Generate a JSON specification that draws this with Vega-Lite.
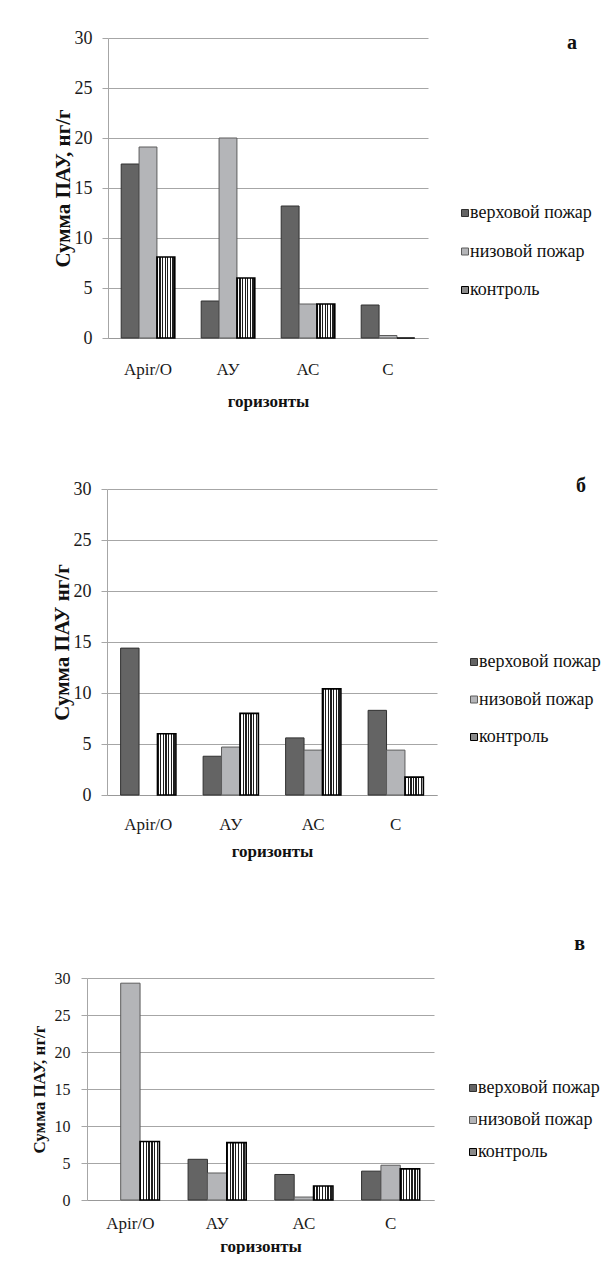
{
  "$schema": "https://vega.github.io/schema/vega-lite/v6.json",
  "padding": {"left": 29, "top": 29, "right": 0, "bottom": 0},
  "background": "white",
  "columns": 2,
  "align": "none",
  "bounds": "full",
  "spacing": {"row": 67, "column": 0},
  "config": {
    "font": "Liberation Serif",
    "view": {"stroke": null},
    "axis": {
      "labelFont": "Liberation Serif",
      "titleFont": "Liberation Serif",
      "labelColor": "#1a1a1a",
      "titleColor": "#111111",
      "titleFontWeight": "bold",
      "gridColor": "#a6a6a6",
      "domainColor": "#a6a6a6",
      "tickColor": "#a6a6a6",
      "gridWidth": 1,
      "domainWidth": 1
    },
    "axisX": {"ticks": false, "tickSize": 0, "labelAngle": 0, "domainColor": "#999999", "grid": false},
    "axisY": {"tickSize": 6, "grid": true},
    "legend": {
      "labelFont": "Liberation Serif",
      "titleFont": "Liberation Serif",
      "labelColor": "#111111",
      "titleColor": "#111111",
      "titleFontWeight": "bold",
      "titleFontSize": 20,
      "titleAnchor": "end",
      "padding": 0,
      "symbolType": "square",
      "symbolSize": 49,
      "symbolStrokeColor": "#333333",
      "symbolStrokeWidth": 1,
      "labelOffset": -4,
      "labelLimit": 300,
      "titleLimit": 300
    }
  },
  "datasets": {
    "a": [
      {"horizon": "Apir/O", "series": "верховой пожар", "value": 17.4},
      {"horizon": "Apir/O", "series": "низовой пожар", "value": 19.1},
      {"horizon": "Apir/O", "series": "контроль", "value": 8.1},
      {"horizon": "АУ", "series": "верховой пожар", "value": 3.7},
      {"horizon": "АУ", "series": "низовой пожар", "value": 20.0},
      {"horizon": "АУ", "series": "контроль", "value": 6.0},
      {"horizon": "АС", "series": "верховой пожар", "value": 13.2},
      {"horizon": "АС", "series": "низовой пожар", "value": 3.4},
      {"horizon": "АС", "series": "контроль", "value": 3.4},
      {"horizon": "С", "series": "верховой пожар", "value": 3.3},
      {"horizon": "С", "series": "низовой пожар", "value": 0.25},
      {"horizon": "С", "series": "контроль", "value": 0}
    ],
    "b": [
      {"horizon": "Apir/O", "series": "верховой пожар", "value": 14.4},
      {"horizon": "Apir/O", "series": "контроль", "value": 6.0},
      {"horizon": "АУ", "series": "верховой пожар", "value": 3.8},
      {"horizon": "АУ", "series": "низовой пожар", "value": 4.7},
      {"horizon": "АУ", "series": "контроль", "value": 8.0},
      {"horizon": "АС", "series": "верховой пожар", "value": 5.6},
      {"horizon": "АС", "series": "низовой пожар", "value": 4.4},
      {"horizon": "АС", "series": "контроль", "value": 10.4},
      {"horizon": "С", "series": "верховой пожар", "value": 8.3},
      {"horizon": "С", "series": "низовой пожар", "value": 4.4},
      {"horizon": "С", "series": "контроль", "value": 1.75}
    ],
    "c": [
      {"horizon": "Apir/O", "series": "низовой пожар", "value": 29.3},
      {"horizon": "Apir/O", "series": "контроль", "value": 7.9},
      {"horizon": "АУ", "series": "верховой пожар", "value": 5.5},
      {"horizon": "АУ", "series": "низовой пожар", "value": 3.65},
      {"horizon": "АУ", "series": "контроль", "value": 7.75},
      {"horizon": "АС", "series": "верховой пожар", "value": 3.45},
      {"horizon": "АС", "series": "низовой пожар", "value": 0.4},
      {"horizon": "АС", "series": "контроль", "value": 1.9},
      {"horizon": "С", "series": "верховой пожар", "value": 3.9},
      {"horizon": "С", "series": "низовой пожар", "value": 4.7},
      {"horizon": "С", "series": "контроль", "value": 4.2}
    ],
    "empty": []
  },
  "concat": [
    {"width": 1, "height": 1, "data": {"name": "empty"}, "mark": "point"},
    {
      "width": 320,
      "height": 300,
      "data": {"name": "a"},
      "mark": {"type": "bar"},
      "encoding": {
        "x": {"field": "horizon", "type": "nominal", "sort": ["Apir/O", "АУ", "АС", "С"], "scale": {"paddingInner": 0.33, "paddingOuter": 0.165},
          "axis": {"title": "горизонты", "labelPadding": 23, "titlePadding": 16, "labelFontSize": 17, "titleFontSize": 17}},
        "xOffset": {"field": "series", "type": "nominal", "scale": {"domain": ["верховой пожар", "низовой пожар", "контроль"], "paddingInner": 0, "paddingOuter": 0}},
        "y": {"field": "value", "type": "quantitative", "scale": {"domain": [0, 30]},
          "axis": {"values": [0, 5, 10, 15, 20, 25, 30], "title": ["", "Сумма ПАУ, нг/г"], "titleFontSize": 21, "titlePadding": 1, "titleLineHeight": 22, "labelFontSize": 18, "labelPadding": 10}},
        "fill": {
          "condition": {"test": "datum.series === 'контроль'", "value": {"gradient": "linear", "x1": 0, "y1": 0, "x2": 1, "y2": 0, "stops": [
            {"offset": 0, "color": "#1e1e1e"}, {"offset": 0.0714, "color": "#1e1e1e"},
            {"offset": 0.0714, "color": "#ffffff"}, {"offset": 0.1429, "color": "#ffffff"},
            {"offset": 0.1429, "color": "#1e1e1e"}, {"offset": 0.2143, "color": "#1e1e1e"},
            {"offset": 0.2143, "color": "#ffffff"}, {"offset": 0.2857, "color": "#ffffff"},
            {"offset": 0.2857, "color": "#1e1e1e"}, {"offset": 0.3571, "color": "#1e1e1e"},
            {"offset": 0.3571, "color": "#ffffff"}, {"offset": 0.4286, "color": "#ffffff"},
            {"offset": 0.4286, "color": "#1e1e1e"}, {"offset": 0.5, "color": "#1e1e1e"},
            {"offset": 0.5, "color": "#ffffff"}, {"offset": 0.5714, "color": "#ffffff"},
            {"offset": 0.5714, "color": "#1e1e1e"}, {"offset": 0.6429, "color": "#1e1e1e"},
            {"offset": 0.6429, "color": "#ffffff"}, {"offset": 0.7143, "color": "#ffffff"},
            {"offset": 0.7143, "color": "#1e1e1e"}, {"offset": 0.7857, "color": "#1e1e1e"},
            {"offset": 0.7857, "color": "#ffffff"}, {"offset": 0.8571, "color": "#ffffff"},
            {"offset": 0.8571, "color": "#1e1e1e"}, {"offset": 0.9286, "color": "#1e1e1e"},
            {"offset": 0.9286, "color": "#ffffff"}, {"offset": 1, "color": "#ffffff"}]}},
          "field": "series", "type": "nominal",
          "scale": {"domain": ["верховой пожар", "низовой пожар", "контроль"], "range": ["#646464", "#b4b5b8", "#8a8a8a"]},
          "legend": {"title": "а\u2800", "orient": "none", "legendX": 348, "legendY": -5, "titlePadding": 151, "labelFont": "Liberation Serif", "labelFontSize": 18, "rowPadding": 20.5}
        },
        "stroke": {"field": "series", "type": "nominal", "scale": {"domain": ["верховой пожар", "низовой пожар", "контроль"], "range": ["#303030", "#5c5c5c", "#000000"]}, "legend": null},
        "strokeWidth": {"condition": {"test": "datum.series === 'контроль'", "value": 1.6}, "value": 1}
      }
    },
    {"width": 1, "height": 1, "data": {"name": "empty"}, "mark": "point"},
    {
      "width": 330,
      "height": 306,
      "data": {"name": "b"},
      "mark": {"type": "bar"},
      "encoding": {
        "x": {"field": "horizon", "type": "nominal", "sort": ["Apir/O", "АУ", "АС", "С"], "scale": {"paddingInner": 0.33, "paddingOuter": 0.165},
          "axis": {"title": ["горизонты", ""], "titleLineHeight": 8, "labelPadding": 21, "titlePadding": 11, "labelFontSize": 17, "titleFontSize": 17}},
        "xOffset": {"field": "series", "type": "nominal", "scale": {"domain": ["верховой пожар", "низовой пожар", "контроль"], "paddingInner": 0, "paddingOuter": 0}},
        "y": {"field": "value", "type": "quantitative", "scale": {"domain": [0, 30]},
          "axis": {"values": [0, 5, 10, 15, 20, 25, 30], "title": ["", "Сумма ПАУ нг/г"], "titleFontSize": 21, "titlePadding": 1, "titleLineHeight": 21, "labelFontSize": 18, "labelPadding": 10}},
        "fill": {
          "condition": {"test": "datum.series === 'контроль'", "value": {"gradient": "linear", "x1": 0, "y1": 0, "x2": 1, "y2": 0, "stops": [
            {"offset": 0, "color": "#1e1e1e"}, {"offset": 0.0714, "color": "#1e1e1e"},
            {"offset": 0.0714, "color": "#ffffff"}, {"offset": 0.1429, "color": "#ffffff"},
            {"offset": 0.1429, "color": "#1e1e1e"}, {"offset": 0.2143, "color": "#1e1e1e"},
            {"offset": 0.2143, "color": "#ffffff"}, {"offset": 0.2857, "color": "#ffffff"},
            {"offset": 0.2857, "color": "#1e1e1e"}, {"offset": 0.3571, "color": "#1e1e1e"},
            {"offset": 0.3571, "color": "#ffffff"}, {"offset": 0.4286, "color": "#ffffff"},
            {"offset": 0.4286, "color": "#1e1e1e"}, {"offset": 0.5, "color": "#1e1e1e"},
            {"offset": 0.5, "color": "#ffffff"}, {"offset": 0.5714, "color": "#ffffff"},
            {"offset": 0.5714, "color": "#1e1e1e"}, {"offset": 0.6429, "color": "#1e1e1e"},
            {"offset": 0.6429, "color": "#ffffff"}, {"offset": 0.7143, "color": "#ffffff"},
            {"offset": 0.7143, "color": "#1e1e1e"}, {"offset": 0.7857, "color": "#1e1e1e"},
            {"offset": 0.7857, "color": "#ffffff"}, {"offset": 0.8571, "color": "#ffffff"},
            {"offset": 0.8571, "color": "#1e1e1e"}, {"offset": 0.9286, "color": "#1e1e1e"},
            {"offset": 0.9286, "color": "#ffffff"}, {"offset": 1, "color": "#ffffff"}]}},
          "field": "series", "type": "nominal",
          "scale": {"domain": ["верховой пожар", "низовой пожар", "контроль"], "range": ["#646464", "#b4b5b8", "#8a8a8a"]},
          "legend": {"title": "б\u2800", "orient": "none", "legendX": 358, "legendY": -13, "titlePadding": 157, "labelFont": "Liberation Serif", "labelFontSize": 18, "rowPadding": 19.5}
        },
        "stroke": {"field": "series", "type": "nominal", "scale": {"domain": ["верховой пожар", "низовой пожар", "контроль"], "range": ["#303030", "#5c5c5c", "#000000"]}, "legend": null},
        "strokeWidth": {"condition": {"test": "datum.series === 'контроль'", "value": 1.6}, "value": 1}
      }
    },
    {"width": 1, "height": 1, "data": {"name": "empty"}, "mark": "point"},
    {
      "width": 347,
      "height": 222,
      "data": {"name": "c"},
      "mark": {"type": "bar"},
      "encoding": {
        "x": {"field": "horizon", "type": "nominal", "sort": ["Apir/O", "АУ", "АС", "С"], "scale": {"paddingInner": 0.33, "paddingOuter": 0.165},
          "axis": {"title": "горизонты", "labelPadding": 15, "titlePadding": 7, "labelFontSize": 17, "titleFontSize": 17}},
        "xOffset": {"field": "series", "type": "nominal", "scale": {"domain": ["верховой пожар", "низовой пожар", "контроль"], "paddingInner": 0, "paddingOuter": 0}},
        "y": {"field": "value", "type": "quantitative", "scale": {"domain": [0, 30]},
          "axis": {"values": [0, 5, 10, 15, 20, 25, 30], "title": "Сумма ПАУ, нг/г", "titleFontSize": 17, "titlePadding": 6, "labelFontSize": 16, "labelPadding": 11}},
        "fill": {
          "condition": {"test": "datum.series === 'контроль'", "value": {"gradient": "linear", "x1": 0, "y1": 0, "x2": 1, "y2": 0, "stops": [
            {"offset": 0, "color": "#1e1e1e"}, {"offset": 0.0714, "color": "#1e1e1e"},
            {"offset": 0.0714, "color": "#ffffff"}, {"offset": 0.1429, "color": "#ffffff"},
            {"offset": 0.1429, "color": "#1e1e1e"}, {"offset": 0.2143, "color": "#1e1e1e"},
            {"offset": 0.2143, "color": "#ffffff"}, {"offset": 0.2857, "color": "#ffffff"},
            {"offset": 0.2857, "color": "#1e1e1e"}, {"offset": 0.3571, "color": "#1e1e1e"},
            {"offset": 0.3571, "color": "#ffffff"}, {"offset": 0.4286, "color": "#ffffff"},
            {"offset": 0.4286, "color": "#1e1e1e"}, {"offset": 0.5, "color": "#1e1e1e"},
            {"offset": 0.5, "color": "#ffffff"}, {"offset": 0.5714, "color": "#ffffff"},
            {"offset": 0.5714, "color": "#1e1e1e"}, {"offset": 0.6429, "color": "#1e1e1e"},
            {"offset": 0.6429, "color": "#ffffff"}, {"offset": 0.7143, "color": "#ffffff"},
            {"offset": 0.7143, "color": "#1e1e1e"}, {"offset": 0.7857, "color": "#1e1e1e"},
            {"offset": 0.7857, "color": "#ffffff"}, {"offset": 0.8571, "color": "#ffffff"},
            {"offset": 0.8571, "color": "#1e1e1e"}, {"offset": 0.9286, "color": "#1e1e1e"},
            {"offset": 0.9286, "color": "#ffffff"}, {"offset": 1, "color": "#ffffff"}]}},
          "field": "series", "type": "nominal",
          "scale": {"domain": ["верховой пожар", "низовой пожар", "контроль"], "range": ["#646464", "#b4b5b8", "#8a8a8a"]},
          "legend": {"title": "в\u2800", "orient": "none", "legendX": 377, "legendY": -44, "titlePadding": 125, "labelFont": "Liberation Serif", "labelFontSize": 18, "rowPadding": 14}
        },
        "stroke": {"field": "series", "type": "nominal", "scale": {"domain": ["верховой пожар", "низовой пожар", "контроль"], "range": ["#303030", "#5c5c5c", "#000000"]}, "legend": null},
        "strokeWidth": {"condition": {"test": "datum.series === 'контроль'", "value": 1.6}, "value": 1}
      }
    }
  ],
  "resolve": {
    "scale": {"x": "independent", "y": "independent", "xOffset": "independent", "fill": "independent", "stroke": "independent"},
    "legend": {"fill": "independent"}
  }
}
